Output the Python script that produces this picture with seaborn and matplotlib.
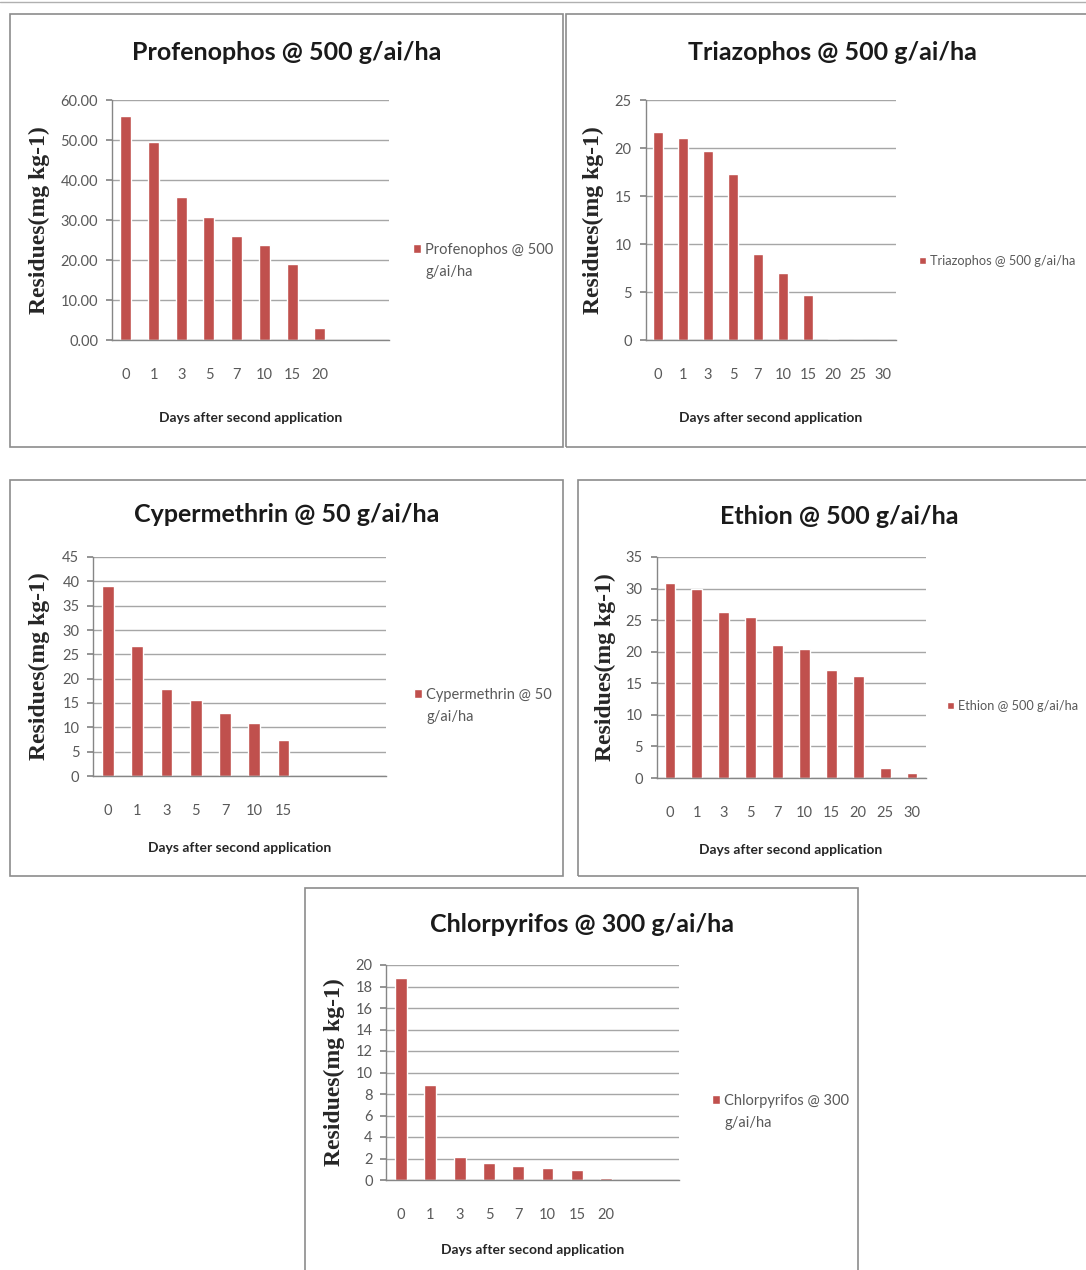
import numpy as np
import pandas as pd
import matplotlib
matplotlib.use("Agg")
import matplotlib.pyplot as plt
from matplotlib.patches import Rectangle
from matplotlib.lines import Line2D
from matplotlib.ticker import FormatStrFormatter
import seaborn as sns

# ---- data ----
days_all = ["0", "1", "3", "5", "7", "10", "15", "20", "25", "30"]

profenophos_days = ["0", "1", "3", "5", "7", "10", "15", "20"]
profenophos_vals = [55.9, 49.6, 35.7, 30.7, 25.9, 23.7, 19.1, 3.0]

triazophos_days = days_all
triazophos_vals = [21.7, 21.0, 19.7, 17.3, 9.0, 7.0, 4.7, 0.15, 0.0, 0.0]

cypermethrin_days = ["0", "1", "3", "5", "7", "10", "15"]
cypermethrin_vals = [39.0, 26.8, 17.8, 15.6, 13.0, 10.9, 7.4]

ethion_days = days_all
ethion_vals = [30.9, 29.9, 26.3, 25.5, 21.0, 20.5, 17.1, 16.2, 1.6, 0.8]

chlorpyrifos_days = ["0", "1", "3", "5", "7", "10", "15", "20"]
chlorpyrifos_vals = [18.8, 8.8, 2.16, 1.58, 1.27, 1.08, 0.93, 0.15]

titles = ["Profenophos @ 500 g/ai/ha", "Triazophos @ 500 g/ai/ha",
          "Cypermethrin @ 50 g/ai/ha", "Ethion @ 500 g/ai/ha",
          "Chlorpyrifos @ 300 g/ai/ha"]
# legend text, one entry per line as wrapped in the reference
legend_lines = [["Profenophos @ 500", "g/ai/ha"],
                ["Triazophos @ 500 g/ai/ha"],
                ["Cypermethrin @ 50", "g/ai/ha"],
                ["Ethion @ 500 g/ai/ha"],
                ["Chlorpyrifos @ 300", "g/ai/ha"]]
y_ticks = [np.arange(0, 61, 10), np.arange(0, 26, 5), np.arange(0, 46, 5),
           np.arange(0, 36, 5), np.arange(0, 21, 2)]
y_fmt = ["%.2f", "%d", "%d", "%d", "%d"]

# ---- layout (pixels in a 1086x1270 canvas) ----
W, H = 1086, 1270
panels = [
    dict(days=profenophos_days, vals=profenophos_vals,
         box=(10, 14, 563, 447), ax=(112, 100, 389, 340), ylab_dx=-62,
         title_xy=(287, 52), leg_xy=(413, 243), leg_size=10.5),
    dict(days=triazophos_days, vals=triazophos_vals,
         box=(566, 14, 1100, 447), ax=(645.5, 100, 895.5, 340), ylab_dx=-41,
         title_xy=(832, 52), leg_xy=(919, 255), leg_size=9.2),
    dict(days=cypermethrin_days, vals=cypermethrin_vals,
         box=(10, 480, 563, 876), ax=(93.3, 557, 386, 776), ylab_dx=-43,
         title_xy=(287, 515), leg_xy=(414, 688), leg_size=10.5),
    dict(days=ethion_days, vals=ethion_vals,
         box=(578, 480, 1100, 876), ax=(656.5, 557, 925.5, 778), ylab_dx=-41,
         title_xy=(839, 517), leg_xy=(947, 700), leg_size=9.2),
    dict(days=chlorpyrifos_days, vals=chlorpyrifos_vals,
         box=(305, 888, 858, 1280), ax=(386.4, 965, 679.4, 1180), ylab_dx=-41,
         title_xy=(582, 925), leg_xy=(712, 1094), leg_size=10.5),
]

bar_color = "#C0504D"
grid_color = "#A6A6A6"
axis_color = "#868686"
label_gray = "#595959"

sns.set_theme(style="white")
plt.rcParams["font.family"] = ["Lato", "DejaVu Sans"]


def fx(x):
    return x / W


def fy(y):
    return 1 - y / H


fig = plt.figure(figsize=(W / 100, H / 100), dpi=100)
fig.patch.set_facecolor("white")

# thin line along the top edge of the screenshot
fig.add_artist(Line2D([0, 1], [fy(2), fy(2)], color="#B0B0B0", lw=1,
                      transform=fig.transFigure))

legends = []
for i, p in enumerate(panels):
    x0, y0, x1, y1 = p["box"]
    fig.add_artist(Rectangle((fx(x0), fy(y1)), fx(x1 - x0), (y1 - y0) / H,
                             transform=fig.transFigure, fill=False,
                             edgecolor="#8C8C8C", lw=1.2))

    a0, b0, a1, b1 = p["ax"]
    ax = fig.add_axes([fx(a0), fy(b1), fx(a1 - a0), (b1 - b0) / H])

    df = pd.DataFrame({"day": p["days"], "residue": p["vals"]})
    sns.barplot(data=df, x="day", y="residue", order=p["days"],
                color=bar_color, saturation=1, width=0.4,
                label=legend_lines[i][0], ax=ax)

    ax.set_xlim(-0.5, 9.5)
    ax.set_ylim(0, y_ticks[i][-1])
    ax.set_yticks(y_ticks[i])
    ax.yaxis.set_major_formatter(FormatStrFormatter(y_fmt[i]))
    ax.set_xticks(range(len(p["days"])))
    ax.set_xticklabels(p["days"])

    ax.grid(axis="y", color=grid_color, lw=1)
    ax.grid(axis="x", visible=False)
    ax.set_axisbelow(True)
    for s in ["top", "right"]:
        ax.spines[s].set_visible(False)
    for s in ["left", "bottom"]:
        ax.spines[s].set_color(axis_color)
        ax.spines[s].set_linewidth(1)

    ax.tick_params(axis="y", length=4, color=axis_color, pad=6,
                   labelsize=10.5, labelcolor=label_gray, left=True)
    ax.tick_params(axis="x", length=0, pad=20, labelsize=10.5,
                   labelcolor=label_gray)

    ax.set_xlabel("Days after second application", fontsize=10,
                  fontweight="bold", color="#262626")
    ax.xaxis.set_label_coords(0.5, -0.3)
    ax.set_ylabel("Residues(mg kg-1)", fontsize=17, fontweight="bold",
                  family=["Liberation Serif", "DejaVu Serif"], color="#262626")
    ax.yaxis.set_label_coords(p["ylab_dx"] / (a1 - a0), 0.5)

    tx, ty = p["title_xy"]
    fig.text(fx(tx), fy(ty), titles[i], ha="center", va="center",
             fontsize=18, fontweight="bold", color="#1A1A1A")

    lx, ly = p["leg_xy"]
    handles, labels = ax.get_legend_handles_labels()
    leg = ax.legend(handles[:1], labels[:1], loc="upper left",
                    bbox_to_anchor=(fx(lx), fy(ly)),
                    bbox_transform=fig.transFigure,
                    frameon=False, borderpad=0, borderaxespad=0,
                    handlelength=0.55, handleheight=0.55, handletextpad=0.3,
                    prop=dict(size=p["leg_size"]), labelcolor=label_gray)
    legends.append((leg, p))

# wrapped second line of the legend labels, aligned under the first line
fig.canvas.draw()
renderer = fig.canvas.get_renderer()
for i, (leg, p) in enumerate(legends):
    if len(legend_lines[i]) < 2:
        continue
    bb = leg.get_texts()[0].get_window_extent(renderer)
    fig.text(bb.x0 / W, (bb.y0 + bb.y1) / 2 / H - 22 / H, legend_lines[i][1],
             ha="left", va="center", fontsize=p["leg_size"], color=label_gray)

fig.savefig("out.png", dpi=100, facecolor="white")
